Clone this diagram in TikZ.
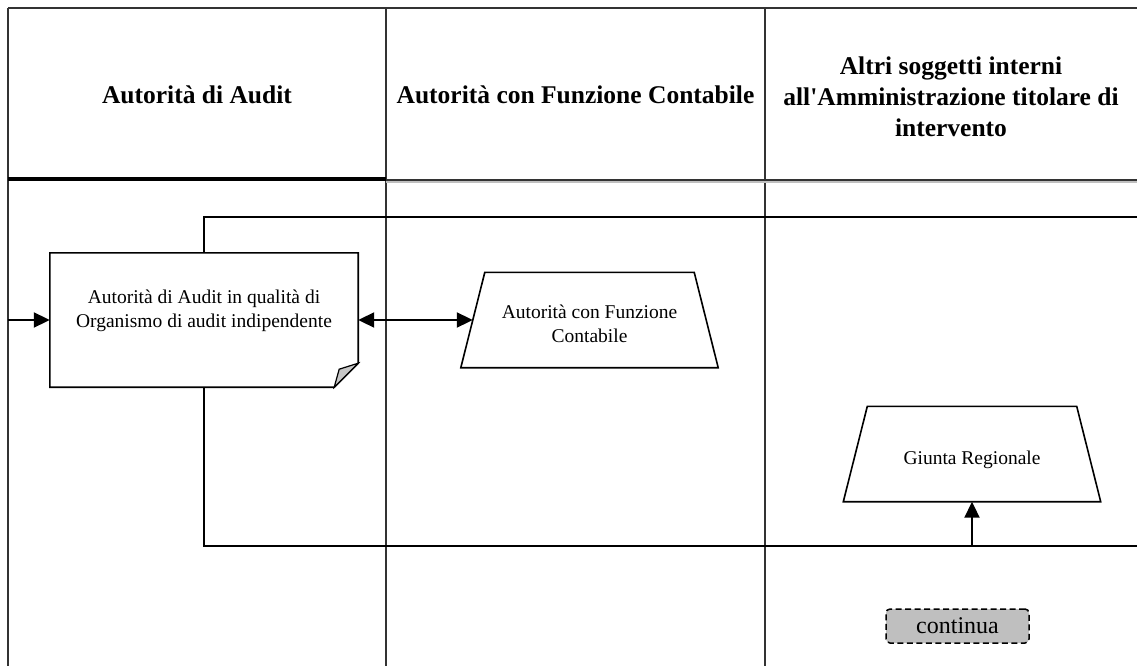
\documentclass[tikz,border=0pt]{standalone}
\usepackage{fontspec}
\setmainfont{Liberation Serif}[Ligatures=TeXOff]
\usetikzlibrary{arrows.meta}

\begin{document}
\begin{tikzpicture}[x=1pt,y=-1pt,
  grid/.style={line width=2pt,draw=black!80},
  conn/.style={line width=2pt,draw=black},
  tip/.style={-{Triangle[length=16pt,width=15pt]}},
  twotips/.style={{Triangle[length=16pt,width=15pt]}-{Triangle[length=16pt,width=15pt]}},
  hdr/.style={font=\fontsize{25.5}{31}\selectfont\bfseries,align=center,inner sep=0pt},
  body/.style={font=\fontsize{19.5}{23.5}\selectfont,align=center},
  actor/.style={minimum height=95pt,minimum width=257pt,inner sep=0pt},
  actorline/.style={draw,line width=1.6pt,line join=miter},
  contbox/.style={draw,dash pattern=on 6pt off 3.5pt,rounded corners=4pt,fill=black!25,line width=1.5pt,
    minimum width=143pt,minimum height=34pt,inner sep=0pt,
    font=\fontsize{24}{28}\selectfont}
]
\useasboundingbox (0,0) rectangle (1137,666);
\fill[white] (0,0) rectangle (1137,666);

% swimlane grid
\draw[grid] (8,8) -- (1137,8);
\draw[grid] (8,8) -- (8,666);
\draw[grid] (386,8) -- (386,666);
\draw[grid] (765,8) -- (765,666);
\draw[black!25,line width=1.5pt] (386,182) -- (1137,182);
\draw[grid] (386,180) -- (1137,180);
\draw[black,line width=4.5pt] (8,179) -- (386,179);

% lane headings
\node[hdr] (h1) at (197,95) {Autorità di Audit};
\node[hdr] (h2) at (575.5,95) {Autorità con Funzione Contabile};
\node[hdr] (h3) at (951,97) {Altri soggetti interni\\all'Amministrazione titolare di\\intervento};

% document box with folded corner
\node[minimum width=308pt,minimum height=134pt,inner sep=0pt] (aud) at (204,320) {};

% connectors
\coordinate (lin) at (8,320);
\coordinate (topR) at (1137,217);
\coordinate (botR) at (1137,546);
\draw[conn] (aud.north) |- (topR);
\draw[conn,line width=2.5pt] (aud.south) |- (botR);

\draw[line width=1.6pt,fill=white] (aud.north west) -- (aud.north east)
  -- ([yshift=24pt]aud.south east) -- ([xshift=-24pt]aud.south east)
  -- (aud.south west) -- cycle;
\filldraw[fill=black!22,line width=1.2pt] ([yshift=24pt]aud.south east)
  -- ([xshift=-19pt,yshift=18pt]aud.south east) -- ([xshift=-24pt]aud.south east) -- cycle;
\node[body] (audtxt) at ([yshift=9pt]aud.center) {Autorità di Audit in qualità di\\Organismo di audit indipendente};

% actors drawn as trapezia
\node[actor] (ac) at (589.5,320) {};
\draw[actorline] (ac.south west) -- ([xshift=24pt]ac.north west)
  -- ([xshift=-24pt]ac.north east) -- (ac.south east) -- cycle;
\node[body] (actxt) at ([yshift=-4pt]ac.center) {Autorità con Funzione\\Contabile};
\node[actor] (gr) at (972,454) {};
\draw[actorline] (gr.south west) -- ([xshift=24pt]gr.north west)
  -- ([xshift=-24pt]gr.north east) -- (gr.south east) -- cycle;
\node[body] (grtxt) at ([yshift=-6pt]gr.center) {Giunta Regionale};

\node[contbox] (cn) at (957.5,626) {continua};

\draw[conn,tip] (lin) -- (aud.west);
\draw[conn,twotips] (aud.east) -- ([xshift=12pt]ac.west);
\draw[conn,tip] (gr.south |- botR) -- (gr.south);
\end{tikzpicture}
\end{document}
